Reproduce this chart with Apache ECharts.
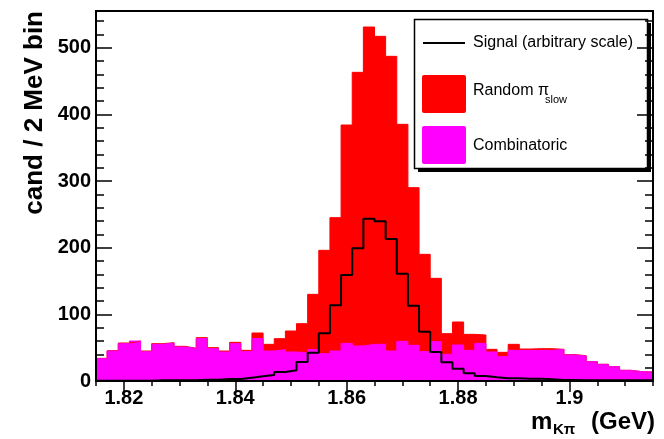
<!DOCTYPE html>
<html><head><meta charset="utf-8">
<script src="https://cdn.jsdelivr.net/npm/echarts@6/dist/echarts.min.js"></script>
<style>html,body{margin:0;padding:0;background:#fff}#c{width:664px;height:439px}</style>
</head><body><div id="c"></div>
<script>
// Bin edges (GeV), 2 MeV bins
const binEdges = [
 1.815,1.817,1.819,1.821,1.823,1.825,1.827,1.829,1.831,1.833,
 1.835,1.837,1.839,1.841,1.843,1.845,1.847,1.849,1.851,1.853,
 1.855,1.857,1.859,1.861,1.863,1.865,1.867,1.869,1.871,1.873,
 1.875,1.877,1.879,1.881,1.883,1.885,1.887,1.889,1.891,1.893,
 1.895,1.897,1.899,1.901,1.903,1.905,1.907,1.909,1.911,1.913,
 1.915];
const combinatoric = [
 33.5,45,56,60,44,55,57,51,49,63.5,
 48.5,43.5,56,44,63.5,45,47,43.5,42,47,
 41,45,56.5,52.5,55,55,45,59.5,53.5,44,
 59,40,54,46,56.5,43.5,36.5,46,46,46,
 46,47.5,39,37.5,29,25,21.5,16,14,13.5];
const randomPiSlow = [
 0.5,0.5,1,0,1,1,0.5,1,0,1.5,
 1.5,1.5,2,2,8.5,10,16.5,31.5,44,83,
 155,200,327.5,410.5,476,462,442,325.5,236.5,146,
 95,31,34.5,24,12.5,4,6.5,9,2,2.5,
 2.5,0,0.5,0.5,0,0,0,0,0,0];
const signal = [
 0.5,0.5,0.5,0.5,0.5,1,1,1,1,2,
 2,3,3,5,7,9,13.5,16,28.5,42.5,
 71.5,113.5,159,199,243.5,239.5,213,161,113,74,
 43.5,28,18.5,11.5,7.5,5.5,4,4,3.5,3.5,
 2.5,1.5,1.5,1,1,1,1,1,1,1];
const xMajorTicks = [1.82,1.84,1.86,1.88,1.9];
const xMinorTicks = [1.815,1.82,1.825,1.83,1.835,1.84,1.845,1.85,1.855,1.86,1.865,1.87,1.875,1.88,1.885,1.89,1.895,1.9,1.905,1.91,1.915];
const yMajorTicks = [0,100,200,300,400,500];
const yMinorTicks = [0,20,40,60,80,100,120,140,160,180,200,220,240,260,280,300,320,340,360,380,400,420,440,460,480,500,520,540];

const FONT = '"Liberation Sans", Arial, Helvetica, sans-serif';
const xMin = binEdges[0], xMax = binEdges[binEdges.length-1];
const yMin = 0, yMax = 555;

function stepData(vals){
  const d = vals.map((v,i)=>[binEdges[i], v]);
  d.push([binEdges[vals.length], vals[vals.length-1]]);
  return d;
}
const total = combinatoric.map((c,i)=>c+randomPiSlow[i]);

function xAx(pos, ticks, len, labels, z){
  return {type:'value', min:xMin, max:xMax, position:pos, z:z,
    axisLine:{show:false},
    axisTick:{show:true, inside:true, length:len, customValues:ticks, lineStyle:{color:'#000', width:1.5}},
    axisLabel: labels ? {show:true, customValues:ticks, margin:7, color:'#000', fontSize:20, fontWeight:'bold', fontFamily:FONT} : {show:false},
    splitLine:{show:false}};
}
function yAx(pos, ticks, len, labels, z){
  return {type:'value', min:yMin, max:yMax, position:pos, z:z,
    axisLine:{show:false},
    axisTick:{show:true, inside:true, length:len, customValues:ticks, lineStyle:{color:'#000', width:1.5}},
    axisLabel: labels ? {show:true, customValues:ticks, margin:5, color:'#000', fontSize:20, fontWeight:'bold', fontFamily:FONT} : {show:false},
    splitLine:{show:false}};
}

const chart = echarts.init(document.getElementById('c'), null, {renderer:'canvas'});
chart.setOption({
  animation:false,
  backgroundColor:'#fff',
  grid:{left:96, right:11, top:11, bottom:58, show:true, borderColor:'#000', borderWidth:2, backgroundColor:'transparent', z:10},
  xAxis:[
    xAx('bottom', xMajorTicks, 11, true, 0),
    xAx('bottom', xMinorTicks, 5, false, 0),
    xAx('top', xMajorTicks, 11, false, 5),
    xAx('top', xMinorTicks, 5, false, 5)
  ],
  yAxis:[
    yAx('left', yMajorTicks, 16, true, 0),
    yAx('left', yMinorTicks, 8, false, 0),
    yAx('right', yMajorTicks, 16, false, 5),
    yAx('right', yMinorTicks, 8, false, 5)
  ],
  series:[
    {name:'Random \u03c0slow', type:'line', step:'end', data:stepData(total), symbol:'none', showSymbol:false,
     lineStyle:{color:'#ff0000', width:1}, areaStyle:{color:'#ff0000', opacity:1}, z:2},
    {name:'Combinatoric', type:'line', step:'end', data:stepData(combinatoric), symbol:'none', showSymbol:false,
     lineStyle:{color:'#ff00ff', width:1}, areaStyle:{color:'#ff00ff', opacity:1}, z:2},
    {name:'Signal (arbitrary scale)', type:'line', step:'end', data:stepData(signal), symbol:'none', showSymbol:false,
     lineStyle:{color:'#000', width:2}, z:2}
  ],
  graphic:[
    {type:'text', x:35, y:11, rotation:Math.PI/2, z:3,
     style:{text:'cand / 2 MeV bin', align:'right', verticalAlign:'middle', font:'bold 26px '+FONT, fill:'#000'}},
    {type:'text', x:531, y:422, z:3, style:{text:'m', align:'left', verticalAlign:'middle', font:'bold 24px '+FONT, fill:'#000'}},
    {type:'text', x:553, y:430, z:3, style:{text:'K\u03c0', align:'left', verticalAlign:'middle', font:'bold 15px '+FONT, fill:'#000'}},
    {type:'text', x:655, y:422, z:3, style:{text:'(GeV)', align:'right', verticalAlign:'middle', font:'bold 24px '+FONT, fill:'#000'}},
    // legend
    {type:'rect', z:3, shape:{x:418, y:23, width:233, height:149}, style:{fill:'#000'}},
    {type:'rect', z:3, shape:{x:414.5, y:19.5, width:233, height:149}, style:{fill:'#fff', stroke:'#000', lineWidth:1.5}},
    {type:'line', z:3, shape:{x1:423, y1:43, x2:465, y2:43}, style:{stroke:'#000', lineWidth:2}},
    {type:'text', x:473, y:43, z:3, style:{text:'Signal (arbitrary scale)', align:'left', verticalAlign:'middle', font:'16px '+FONT, fill:'#000'}},
    {type:'rect', z:3, shape:{x:422, y:75, width:44, height:38, r:2}, style:{fill:'#ff0000'}},
    {type:'text', x:473, y:91, z:3, style:{text:'Random \u03c0', align:'left', verticalAlign:'middle', font:'16px '+FONT, fill:'#000'}},
    {type:'text', x:545, y:100, z:3, style:{text:'slow', align:'left', verticalAlign:'middle', font:'11px '+FONT, fill:'#000'}},
    {type:'rect', z:3, shape:{x:422, y:126, width:44, height:38, r:2}, style:{fill:'#ff00ff'}},
    {type:'text', x:473, y:146, z:3, style:{text:'Combinatoric', align:'left', verticalAlign:'middle', font:'16px '+FONT, fill:'#000'}}
  ]
});
</script></body></html>
